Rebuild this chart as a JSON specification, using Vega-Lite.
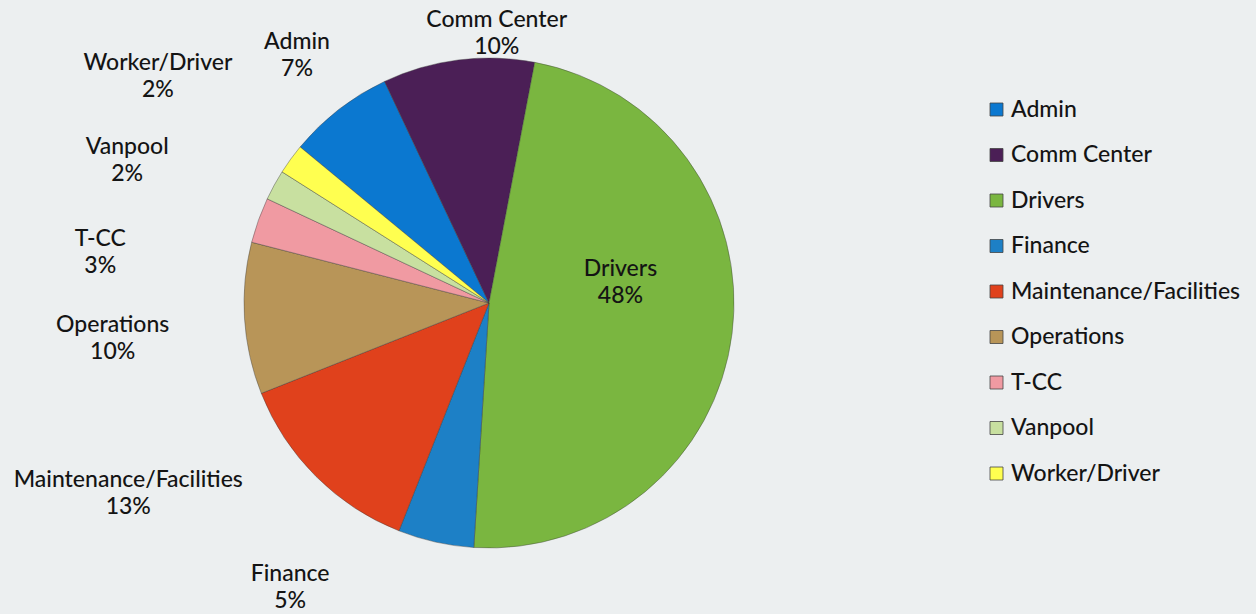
{
  "$schema": "https://vega.github.io/schema/vega-lite/v6.json",
  "width": 978,
  "height": 606,
  "autosize": {"type": "none"},
  "padding": {"left": 0, "top": 0, "right": 278, "bottom": 8},
  "background": "#eceff0",
  "config": {"view": {"stroke": null}, "font": "Lato"},
  "data": {"values": [
    {"category": "Admin", "share": 7},
    {"category": "Comm Center", "share": 10},
    {"category": "Drivers", "share": 48},
    {"category": "Finance", "share": 5},
    {"category": "Maintenance/Facilities", "share": 13},
    {"category": "Operations", "share": 10},
    {"category": "T-CC", "share": 3},
    {"category": "Vanpool", "share": 2},
    {"category": "Worker/Driver", "share": 2}
  ]},
  "transform": [{"calculate": "datum.category + '\\n' + datum.share + '%'", "as": "label"}],
  "encoding": {
    "theta": {"field": "share", "type": "quantitative", "stack": true, "scale": {"range": [5.403, 11.686]}},
    "order": {"field": "category", "type": "ordinal", "sort": "ascending"}
  },
  "layer": [
    {
      "mark": {"type": "arc", "outerRadius": 245, "stroke": "#3a3a3a", "strokeWidth": 0.8, "strokeOpacity": 0.5},
      "encoding": {
        "color": {
          "field": "category", "type": "nominal",
          "scale": {
            "domain": ["Admin", "Comm Center", "Drivers", "Finance", "Maintenance/Facilities", "Operations", "T-CC", "Vanpool", "Worker/Driver"],
            "range": ["#0b78d0", "#4b1f56", "#7ab640", "#1d80c6", "#e0411c", "#b89558", "#f09aa2", "#c8e0a0", "#ffff50"]
          },
          "legend": {
            "title": null, "orient": "none", "legendX": 985, "legendY": 98, "padding": 0,
            "symbolType": "square", "symbolSize": 169, "symbolStrokeColor": "#444", "symbolStrokeWidth": 0.8,
            "labelFont": "Lato", "labelFontSize": 23, "labelFontWeight": 500, "labelColor": "#141414", "labelOffset": 3,
            "rowPadding": 21.5, "labelLimit": 300
          }
        }
      }
    },
    {"mark": {"type": "text", "radius": 270, "thetaOffset": 0.155, "dy": -13.5, "lineBreak": "\n", "fontSize": 23, "fontWeight": 500, "lineHeight": 27, "fill": "#141414", "align": "center", "baseline": "middle"},
     "encoding": {"detail": {"field": "category"}, "text": {"condition": {"test": "datum.category === 'Comm Center'", "field": "label"}, "value": ""}}},
    {"mark": {"type": "text", "radius": 313, "thetaOffset": 0, "dy": -13.5, "lineBreak": "\n", "fontSize": 23, "fontWeight": 500, "lineHeight": 27, "fill": "#141414", "align": "center", "baseline": "middle"},
     "encoding": {"detail": {"field": "category"}, "text": {"condition": {"test": "datum.category === 'Admin'", "field": "label"}, "value": ""}}},
    {"mark": {"type": "text", "radius": 401, "thetaOffset": -0.028, "dy": -13.5, "lineBreak": "\n", "fontSize": 23, "fontWeight": 500, "lineHeight": 27, "fill": "#141414", "align": "center", "baseline": "middle"},
     "encoding": {"detail": {"field": "category"}, "text": {"condition": {"test": "datum.category === 'Worker/Driver'", "field": "label"}, "value": ""}}},
    {"mark": {"type": "text", "radius": 389, "thetaOffset": -0.126, "dy": -13.5, "lineBreak": "\n", "fontSize": 23, "fontWeight": 500, "lineHeight": 27, "fill": "#141414", "align": "center", "baseline": "middle"},
     "encoding": {"detail": {"field": "category"}, "text": {"condition": {"test": "datum.category === 'Vanpool'", "field": "label"}, "value": ""}}},
    {"mark": {"type": "text", "radius": 392, "thetaOffset": -0.215, "dy": -13.5, "lineBreak": "\n", "fontSize": 23, "fontWeight": 500, "lineHeight": 27, "fill": "#141414", "align": "center", "baseline": "middle"},
     "encoding": {"detail": {"field": "category"}, "text": {"condition": {"test": "datum.category === 'T-CC'", "field": "label"}, "value": ""}}},
    {"mark": {"type": "text", "radius": 378, "thetaOffset": -0.03, "dy": -13.5, "lineBreak": "\n", "fontSize": 23, "fontWeight": 500, "lineHeight": 27, "fill": "#141414", "align": "center", "baseline": "middle"},
     "encoding": {"detail": {"field": "category"}, "text": {"condition": {"test": "datum.category === 'Operations'", "field": "label"}, "value": ""}}},
    {"mark": {"type": "text", "radius": 408, "thetaOffset": 0.3, "dy": -13.5, "lineBreak": "\n", "fontSize": 23, "fontWeight": 500, "lineHeight": 27, "fill": "#141414", "align": "center", "baseline": "middle"},
     "encoding": {"detail": {"field": "category"}, "text": {"condition": {"test": "datum.category === 'Maintenance/Facilities'", "field": "label"}, "value": ""}}},
    {"mark": {"type": "text", "radius": 347, "thetaOffset": 0.391, "dy": -13.5, "lineBreak": "\n", "fontSize": 23, "fontWeight": 500, "lineHeight": 27, "fill": "#141414", "align": "center", "baseline": "middle"},
     "encoding": {"detail": {"field": "category"}, "text": {"condition": {"test": "datum.category === 'Finance'", "field": "label"}, "value": ""}}},
    {"mark": {"type": "text", "radius": 133, "thetaOffset": -0.278, "dy": -13.5, "lineBreak": "\n", "fontSize": 23, "fontWeight": 500, "lineHeight": 27, "fill": "#141414", "align": "center", "baseline": "middle"},
     "encoding": {"detail": {"field": "category"}, "text": {"condition": {"test": "datum.category === 'Drivers'", "field": "label"}, "value": ""}}}
  ]
}
